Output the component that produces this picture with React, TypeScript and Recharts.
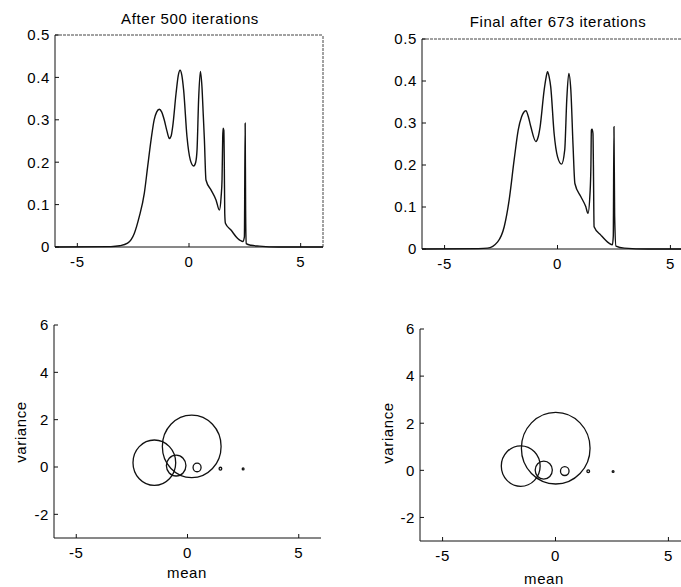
import { LineChart, Line, XAxis, YAxis, ScatterChart, Scatter, ZAxis, ReferenceLine } from "recharts";

const FONT = '"Liberation Sans", Arial, Helvetica, sans-serif';

// top row: estimated mixture density
const densX500 = [
  -6, -3.5, -3.1, -2.75, -2.45, -2.23, -2.0, -1.85, -1.7, -1.56, -1.45, -1.33, -1.22, -1.11, -0.98,
  -0.88, -0.8, -0.73, -0.58, -0.48, -0.4, -0.32, -0.24, -0.09, 0.06, 0.21, 0.3, 0.36, 0.43, 0.51,
  0.58, 0.64, 0.69, 0.76, 0.99, 1.21, 1.36, 1.44, 1.48, 1.51, 1.53, 1.56, 1.58, 1.6, 1.63, 1.88,
  2.18, 2.41, 2.48, 2.515, 2.535, 2.56, 2.78, 3.15, 4, 6,
];
const dens500 = [
  0, 0.001, 0.003, 0.009, 0.032, 0.071, 0.127, 0.19, 0.252, 0.3, 0.318, 0.325, 0.318, 0.3, 0.272,
  0.256, 0.262, 0.284, 0.362, 0.405, 0.417, 0.405, 0.37, 0.26, 0.205, 0.191, 0.2, 0.229, 0.347, 0.414,
  0.378, 0.31, 0.252, 0.158, 0.134, 0.111, 0.087, 0.12, 0.16, 0.26, 0.28, 0.275, 0.2, 0.08, 0.056, 0.04,
  0.02, 0.013, 0.024, 0.292, 0.09, 0.008, 0.004, 0.002, 0, 0,
];
const densX673 = [
  -6, -3.5, -3.1, -2.65, -2.36, -2.14, -1.92, -1.74, -1.59, -1.5, -1.4, -1.29, -1.18, -0.96, -0.86,
  -0.77, -0.59, -0.5, -0.44, -0.37, -0.3, -0.15, 0.0, 0.18, 0.32, 0.41, 0.5, 0.59, 0.69, 0.77, 1.03,
  1.25, 1.35, 1.44, 1.48, 1.5, 1.53, 1.57, 1.59, 1.62, 1.92, 2.28, 2.43, 2.47, 2.5, 2.53, 2.59, 2.96,
  4, 6,
];
const dens673 = [
  0, 0.001, 0.002, 0.017, 0.053, 0.117, 0.212, 0.283, 0.315, 0.325, 0.329, 0.315, 0.291, 0.256, 0.266,
  0.291, 0.379, 0.41, 0.422, 0.41, 0.386, 0.275, 0.22, 0.202, 0.236, 0.355, 0.418, 0.379, 0.244, 0.156,
  0.125, 0.101, 0.085, 0.133, 0.2, 0.283, 0.285, 0.275, 0.2, 0.053, 0.033, 0.014, 0.01, 0.03, 0.291,
  0.08, 0.007, 0.002, 0, 0,
];

// bottom row: one circle per component (centre = mean/variance, radius in data units)
const means500 = [-1.49, 0.19, -0.51, 0.43, 1.48, 2.5];
const vars500 = [0.18, 0.87, 0.06, -0.02, -0.07, -0.08];
const radii500 = [0.96, 1.32, 0.44, 0.18, 0.06, 0.04];
const means673 = [-1.54, 0.01, -0.52, 0.41, 1.45, 2.55];
const vars673 = [0.18, 0.94, 0.01, -0.03, -0.04, -0.05];
const radii673 = [0.86, 1.52, 0.38, 0.19, 0.06, 0.04];

const xTicks = [-5, 0, 5];
const densTicks = [0, 0.1, 0.2, 0.3, 0.4, 0.5];
const varTicks = [-2, 0, 2, 4, 6];

const tickStyle = { fill: "#000", fontSize: 15, letterSpacing: 0.6 };
const INK = "#111";

type Box = { left: number; top: number; w: number; h: number; yW: number; mt: number; mr: number; xH: number };

function DensityPanel({ xs, ys, box }: { xs: number[]; ys: number[]; box: Box }) {
  const rows = xs.map((x, i) => ({ x, y: ys[i] }));
  return (
    <div style={{ position: "absolute", left: box.left, top: box.top }}>
      <LineChart width={box.w} height={box.h} data={rows} margin={{ top: box.mt, right: box.mr, left: 0, bottom: 0 }}>
        <XAxis
          dataKey="x"
          type="number"
          domain={[-6, 6]}
          ticks={xTicks}
          allowDataOverflow
          height={box.xH}
          tick={tickStyle}
          tickSize={-4}
          tickMargin={13}
          axisLine={{ stroke: INK }}
          tickLine={{ stroke: INK }}
        />
        <YAxis
          type="number"
          domain={[0, 0.5]}
          ticks={densTicks}
          width={box.yW}
          tick={tickStyle}
          tickSize={-4}
          tickMargin={9}
          axisLine={{ stroke: INK }}
          tickLine={{ stroke: INK }}
        />
        {/* box frame: top and right edges */}
        <ReferenceLine y={0.5} stroke="#444" strokeDasharray="3 1" />
        <ReferenceLine x={6} stroke="#444" strokeDasharray="3 1" />
        <Line
          dataKey="y"
          type="monotone"
          stroke={INK}
          strokeWidth={1.4}
          dot={false}
          isAnimationActive={false}
        />
      </LineChart>
    </div>
  );
}

function CirclePanel({ means, vars, radii, box }: { means: number[]; vars: number[]; radii: number[]; box: Box }) {
  const rows = means.map((m, i) => ({ x: m, y: vars[i], z: radii[i] * radii[i] }));
  const plotW = box.w - box.yW - box.mr;
  const plotH = box.h - box.mt - box.xH;
  const kx = plotW / 12;
  const ky = plotH / 9;
  const ratio = ky / kx;
  return (
    <div style={{ position: "absolute", left: box.left, top: box.top }}>
      <ScatterChart width={box.w} height={box.h} margin={{ top: box.mt, right: box.mr, left: 0, bottom: 0 }}>
        <XAxis
          dataKey="x"
          type="number"
          domain={[-6, 6]}
          ticks={xTicks}
          allowDataOverflow
          height={box.xH}
          tick={tickStyle}
          tickSize={-4}
          tickMargin={13}
          axisLine={{ stroke: INK }}
          tickLine={{ stroke: INK }}
        />
        <YAxis
          dataKey="y"
          type="number"
          domain={[-3, 6]}
          ticks={varTicks}
          allowDataOverflow
          width={box.yW}
          tick={tickStyle}
          tickSize={-4}
          tickMargin={9}
          axisLine={{ stroke: INK }}
          tickLine={{ stroke: INK }}
        />
        <ZAxis dataKey="z" type="number" domain={[0, 4]} range={[0, 4 * Math.PI * kx * kx]} />
        <Scatter
          data={rows}
          isAnimationActive={false}
          shape={(p: any) => {
            const rx = Math.sqrt(Math.max(p.size || 0, 0) / Math.PI);
            return (
              <ellipse cx={p.cx} cy={p.cy} rx={rx} ry={rx * ratio} fill="none" stroke={INK} strokeWidth={1.3} />
            );
          }}
        />
      </ScatterChart>
    </div>
  );
}

const txt = {
  position: "absolute" as const,
  fontSize: 15,
  letterSpacing: 0.6,
  lineHeight: "15px",
  whiteSpace: "nowrap" as const,
  color: "#000",
};

export default function App() {
  return (
    <div
      style={{
        position: "absolute",
        left: 0,
        top: 0,
        width: 681,
        height: 587,
        overflow: "hidden",
        background: "#fff",
        fontFamily: FONT,
      }}
    >
      <DensityPanel xs={densX500} ys={dens500} box={{ left: 0, top: 0, w: 340, h: 290, yW: 55, mt: 35, mr: 17, xH: 43 }} />
      <DensityPanel xs={densX673} ys={dens673} box={{ left: 340, top: 0, w: 353, h: 290, yW: 82, mt: 39, mr: 0, xH: 41 }} />
      <CirclePanel means={means500} vars={vars500} radii={radii500} box={{ left: 0, top: 290, w: 340, h: 297, yW: 54, mt: 35, mr: 19, xH: 49 }} />
      <CirclePanel means={means673} vars={vars673} radii={radii673} box={{ left: 340, top: 290, w: 353, h: 297, yW: 80, mt: 39, mr: 2, xH: 46 }} />

      <div style={{ ...txt, left: 190, top: 10.5, transform: "translateX(-50%)" }}>After 500 iterations</div>
      <div style={{ ...txt, left: 558, top: 14, transform: "translateX(-50%)" }}>Final after 673 iterations</div>
      <div style={{ ...txt, left: 187, top: 565, transform: "translateX(-50%)" }}>mean</div>
      <div style={{ ...txt, left: 544, top: 570.5, transform: "translateX(-50%)" }}>mean</div>
      <div style={{ ...txt, left: 20, top: 432, transform: "translate(-50%, -50%) rotate(-90deg)" }}>variance</div>
      <div style={{ ...txt, left: 387, top: 433, transform: "translate(-50%, -50%) rotate(-90deg)" }}>variance</div>
    </div>
  );
}
